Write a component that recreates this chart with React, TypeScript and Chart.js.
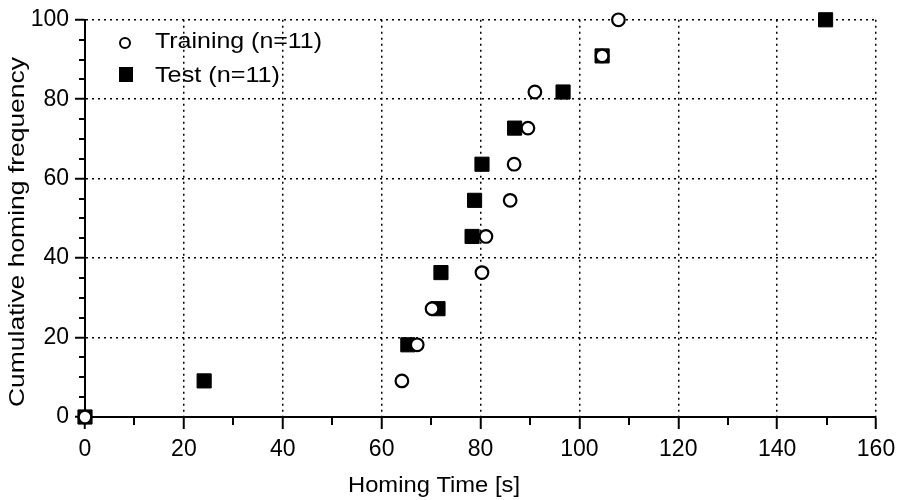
import React, { useEffect, useRef } from 'react';
import { Chart, registerables } from 'chart.js';

Chart.register(...registerables);

// Homing time [s] for each animal (sorted), cumulative homing frequency [%]
const trainingTimes = [0, 64.1, 67.2, 70.2, 80.3, 81.1, 86.0, 86.8, 89.6, 91.0, 104.6, 107.9];
const trainingFreq = [0, 9.09, 18.18, 27.27, 36.36, 45.45, 54.55, 63.64, 72.73, 81.82, 90.91, 100];
const testTimes = [0, 24.1, 65.3, 71.4, 72.0, 78.3, 78.8, 80.3, 86.9, 96.7, 104.6, 149.8];
const testFreq = [0, 9.09, 18.18, 27.27, 36.36, 45.45, 54.55, 63.64, 72.73, 81.82, 90.91, 100];

const xTickValues = [0, 20, 40, 60, 80, 100, 120, 140, 160];
const yTickValues = [0, 20, 40, 60, 80, 100];
const xMinorTicks = [10, 30, 50, 70, 90, 110, 130, 150];
const yMinorTicks = [5, 10, 15, 25, 30, 35, 45, 50, 55, 65, 70, 75, 85, 90, 95];

const xTitle = 'Homing Time [s]';
const yTitle = 'Cumulative homing frequency';
const legendLabels = ['Training (n=11)', 'Test (n=11)'];

const FONT = '"Liberation Sans", Arial, Helvetica, sans-serif';

function fitText(ctx: CanvasRenderingContext2D, text: string, x: number, y: number, width: number, align: 'left' | 'center') {
  const w = ctx.measureText(text).width;
  const s = width / w;
  ctx.save();
  ctx.translate(x, y);
  ctx.scale(s, 1);
  ctx.textAlign = align;
  ctx.fillText(text, 0, 0);
  ctx.restore();
}

const decorPlugin = {
  id: 'decor',
  afterDraw(chart: any) {
    const { ctx, chartArea, scales } = chart;
    const x = scales.x;
    const y = scales.y;
    ctx.save();
    ctx.strokeStyle = '#000';
    ctx.lineWidth = 2;
    ctx.setLineDash([]);
    ctx.beginPath();
    for (const v of yMinorTicks) {
      const py = Math.round(y.getPixelForValue(v));
      ctx.moveTo(chartArea.left - 6, py);
      ctx.lineTo(chartArea.left, py);
    }
    for (const v of xMinorTicks) {
      const px = Math.round(x.getPixelForValue(v));
      ctx.moveTo(px, chartArea.bottom);
      ctx.lineTo(px, chartArea.bottom + 8);
    }
    ctx.stroke();

    // axis titles
    ctx.fillStyle = '#000';
    ctx.font = `22px ${FONT}`;
    ctx.textBaseline = 'alphabetic';
    fitText(ctx, xTitle, chartArea.left + 349, 492, 172, 'center');
    ctx.save();
    ctx.translate(24, 232);
    ctx.rotate(-Math.PI / 2);
    fitText(ctx, yTitle, 0, 0, 350, 'center');
    ctx.restore();

    // legend
    ctx.lineWidth = 2;
    ctx.strokeStyle = '#000';
    ctx.fillStyle = '#fff';
    ctx.beginPath();
    ctx.arc(125, 43, 5, 0, Math.PI * 2);
    ctx.fill();
    ctx.stroke();
    ctx.fillStyle = '#000';
    ctx.fillRect(119, 67, 14, 15);
    ctx.font = `22px ${FONT}`;
    fitText(ctx, legendLabels[0], 155, 48, 167, 'left');
    fitText(ctx, legendLabels[1], 155, 82, 125, 'left');
    ctx.restore();
  },
};

export default function App() {
  const canvasRef = useRef<HTMLCanvasElement | null>(null);

  useEffect(() => {
    const canvas = canvasRef.current;
    if (!canvas) return;
    const chart = new Chart(canvas, {
      type: 'scatter',
      data: {
        datasets: [
          {
            label: legendLabels[0],
            data: trainingTimes.map((t, i) => ({ x: t, y: trainingFreq[i] })),
            pointStyle: 'circle',
            pointRadius: 6.3,
            pointBorderWidth: 2.2,
            pointBackgroundColor: '#fff',
            pointBorderColor: '#000',
            clip: false,
          } as any,
          {
            label: legendLabels[1],
            data: testTimes.map((t, i) => ({ x: t, y: testFreq[i] })),
            pointStyle: 'rect',
            pointRadius: 10,
            pointBorderWidth: 1,
            pointBackgroundColor: '#000',
            pointBorderColor: '#000',
            clip: false,
          } as any,
        ],
      },
      options: {
        responsive: false,
        animation: false,
        layout: { padding: { left: 0, right: 27, top: 17, bottom: 0 } },
        plugins: {
          legend: { display: false },
          tooltip: { enabled: false },
        },
        scales: {
          x: {
            type: 'linear',
            min: 0,
            max: 160,
            afterBuildTicks: (s: any) => {
              s.ticks = xTickValues.map((v) => ({ value: v }));
            },
            afterFit: (s: any) => {
              s.height = 83;
            },
            ticks: {
              color: '#000',
              font: { family: FONT, size: 23 },
              padding: 7,
              maxRotation: 0,
            },
            grid: {
              color: '#000',
              lineWidth: 1.5,
              tickLength: 12,
              tickColor: '#000',
              tickWidth: 2,
              tickBorderDash: [],
            },
            border: { display: true, color: '#000', width: 2, dash: [2, 4] },
          },
          y: {
            type: 'linear',
            min: 0,
            max: 100,
            afterBuildTicks: (s: any) => {
              s.ticks = yTickValues.map((v) => ({ value: v }));
            },
            afterFit: (s: any) => {
              s.width = 85;
            },
            ticks: {
              color: '#000',
              font: { family: FONT, size: 23 },
              padding: 6,
            },
            grid: {
              color: '#000',
              lineWidth: 1.5,
              tickLength: 10,
              tickColor: '#000',
              tickWidth: 2,
              tickBorderDash: [],
            },
            border: { display: true, color: '#000', width: 2, dash: [2, 4] },
          },
        },
      },
      plugins: [decorPlugin],
    } as any);
    return () => chart.destroy();
  }, []);

  return (
    <div style={{ position: 'fixed', left: 0, top: 0, width: 903, height: 500, background: '#fff' }}>
      <canvas ref={canvasRef} width={903} height={500} style={{ display: 'block' }} />
    </div>
  );
}
